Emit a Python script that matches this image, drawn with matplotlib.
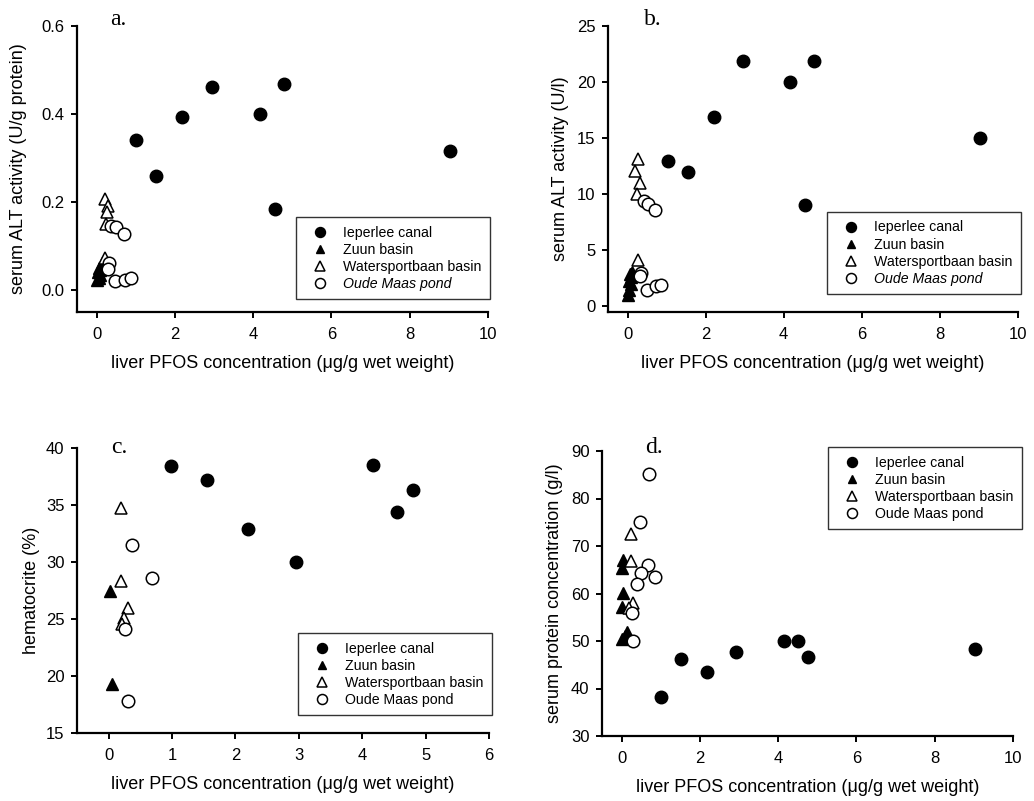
import matplotlib
matplotlib.use("Agg")
import matplotlib.pyplot as plt

plt.rcParams['font.family'] = ['Liberation Sans', 'DejaVu Sans']

# --- data ---
sites = ['Ieperlee canal', 'Zuun basin', 'Watersportbaan basin', 'Oude Maas pond']

# a. serum ALT activity (U/g protein)
ieper_x_a = [1.00, 1.53, 2.19, 2.94, 4.17, 4.57, 4.80, 9.02]
ieper_y_a = [0.341, 0.260, 0.393, 0.462, 0.400, 0.183, 0.469, 0.315]
zuun_x_a = [0.02, 0.05, 0.08, 0.04, 0.10, 0.07, 0.12, 0.14]
zuun_y_a = [0.022, 0.028, 0.035, 0.040, 0.045, 0.050, 0.055, 0.062]
water_x_a = [0.21, 0.30, 0.27, 0.23, 0.21]
water_y_a = [0.207, 0.192, 0.177, 0.150, 0.072]
oude_x_a = [0.38, 0.50, 0.70, 0.31, 0.30, 0.48, 0.72, 0.88]
oude_y_a = [0.146, 0.144, 0.127, 0.061, 0.047, 0.020, 0.023, 0.028]

# b. serum ALT activity (U/l)
ieper_x_b = [1.04, 1.56, 2.21, 2.95, 4.15, 4.54, 4.77, 9.03]
ieper_y_b = [13.0, 12.0, 16.9, 21.9, 20.0, 9.0, 21.9, 15.0]
zuun_x_b = [0.02, 0.05, 0.08, 0.04, 0.10, 0.07, 0.12]
zuun_y_b = [1.0, 1.5, 2.0, 2.3, 2.6, 2.9, 3.1]
water_x_b = [0.28, 0.19, 0.33, 0.23, 0.26]
water_y_b = [13.1, 12.1, 11.0, 10.0, 4.1]
oude_x_b = [0.41, 0.52, 0.70, 0.35, 0.32, 0.49, 0.72, 0.87]
oude_y_b = [9.4, 9.1, 8.6, 3.0, 2.7, 1.5, 1.8, 1.9]

# c. hematocrite (%)
ieper_x_c = [0.99, 1.55, 2.20, 2.95, 4.17, 4.55, 4.80]
ieper_y_c = [38.45, 37.2, 32.9, 30.0, 38.5, 34.4, 36.3]
zuun_x_c = [0.02, 0.05]
zuun_y_c = [27.5, 19.3]
water_x_c = [0.19, 0.20, 0.30, 0.24, 0.21]
water_y_c = [34.7, 28.3, 26.0, 25.05, 24.6]
oude_x_c = [0.37, 0.68, 0.25, 0.30]
oude_y_c = [31.5, 28.6, 24.1, 17.85]

# d. serum protein concentration (g/l)
ieper_x_d = [1.01, 1.52, 2.19, 2.93, 4.15, 4.52, 4.77, 9.03]
ieper_y_d = [38.3, 46.2, 43.5, 47.7, 50.0, 50.0, 46.7, 48.4]
zuun_x_d = [0.04, 0.02, 0.04, 0.02, 0.13, 0.02, 0.08]
zuun_y_d = [67.1, 65.3, 60.2, 57.1, 52.0, 50.4, 51.0]
water_x_d = [0.25, 0.25, 0.29, 0.18]
water_y_d = [72.5, 66.9, 58.1, 57.0]
oude_x_d = [0.70, 0.46, 0.68, 0.49, 0.85, 0.39, 0.26, 0.29]
oude_y_d = [85.2, 75.1, 66.1, 64.4, 63.5, 62.1, 56.0, 50.1]

xlabel = 'liver PFOS concentration (\u03bcg/g wet weight)'

W, H = 1034, 801
fig = plt.figure(figsize=(W / 100, H / 100), dpi=100)


def box(l, t, r, b):
    return [l / W, (H - b) / H, (r - l) / W, (b - t) / H]


def panel(rect, data, xlim, ylim, xticks, yticks, ylabel, ypad, letter, letter_xy,
          leg_xy, italic_oude):
    ax = fig.add_axes(box(*rect))
    (ix, iy), (zx, zy), (wx, wy), (ox, oy) = data
    ax.plot(ix, iy, 'o', ms=9, mfc='black', mec='black', ls='none', label=sites[0])
    ax.plot(zx, zy, '^', ms=8, mfc='black', mec='black', ls='none', label=sites[1])
    ax.plot(wx, wy, '^', ms=8.5, mfc='white', mec='black', mew=1.1, ls='none', label=sites[2])
    ax.plot(ox, oy, 'o', ms=9, mfc='white', mec='black', mew=1.1, ls='none', label=sites[3])
    ax.set_xlim(*xlim)
    ax.set_ylim(*ylim)
    ax.set_xticks(xticks)
    ax.set_yticks(yticks)
    for s in ['top', 'right']:
        ax.spines[s].set_visible(False)
    for s in ['left', 'bottom']:
        ax.spines[s].set_linewidth(1.6)
    ax.tick_params(direction='out', length=4, width=1.4, labelsize=12)
    ax.tick_params(axis='x', pad=7)
    ax.tick_params(axis='y', pad=5)
    ax.set_xlabel(xlabel, fontsize=13, labelpad=9)
    ax.set_ylabel(ylabel, fontsize=13, labelpad=ypad)
    fig.text(letter_xy[0] / W, 1 - letter_xy[1] / H, letter,
             family='Liberation Serif', fontsize=17, va='baseline')
    leg = ax.legend(loc='upper left', bbox_to_anchor=(leg_xy[0] / W, 1 - leg_xy[1] / H),
                    bbox_transform=fig.transFigure, fontsize=10.2, frameon=True,
                    fancybox=False, edgecolor='black', markerscale=0.8,
                    handlelength=2.18, handletextpad=0.53, labelspacing=0.22,
                    borderpad=0.6, borderaxespad=0)
    leg.get_frame().set_linewidth(1.0)
    if italic_oude:
        leg.get_texts()[3].set_fontstyle('italic')
    return ax


panel((77, 26, 488, 312),
      [(ieper_x_a, ieper_y_a), (zuun_x_a, zuun_y_a), (water_x_a, water_y_a), (oude_x_a, oude_y_a)],
      (-0.5, 10), (-0.05, 0.6), [0, 2, 4, 6, 8, 10], [0.0, 0.2, 0.4, 0.6],
      'serum ALT activity (U/g protein)', 10, 'a.', (110, 25), (296, 217), True)
panel((608, 26, 1018, 312),
      [(ieper_x_b, ieper_y_b), (zuun_x_b, zuun_y_b), (water_x_b, water_y_b), (oude_x_b, oude_y_b)],
      (-0.5, 10), (-0.5, 25), [0, 2, 4, 6, 8, 10], [0, 5, 10, 15, 20, 25],
      'serum ALT activity (U/l)', 6, 'b.', (644, 25), (827, 212), True)
panel((77, 448, 489, 733),
      [(ieper_x_c, ieper_y_c), (zuun_x_c, zuun_y_c), (water_x_c, water_y_c), (oude_x_c, oude_y_c)],
      (-0.5, 6), (15, 40), [0, 1, 2, 3, 4, 5, 6], [15, 20, 25, 30, 35, 40],
      'hematocrite (%)', 4, 'c.', (111, 453), (298, 633), False)
panel((602, 451, 1013, 736),
      [(ieper_x_d, ieper_y_d), (zuun_x_d, zuun_y_d), (water_x_d, water_y_d), (oude_x_d, oude_y_d)],
      (-0.5, 10), (30, 90), [0, 2, 4, 6, 8, 10], [30, 40, 50, 60, 70, 80, 90],
      'serum protein concentration (g/l)', 6, 'd.', (645, 453), (828, 447), False)

fig.savefig('out.png', dpi=100, facecolor='white')
